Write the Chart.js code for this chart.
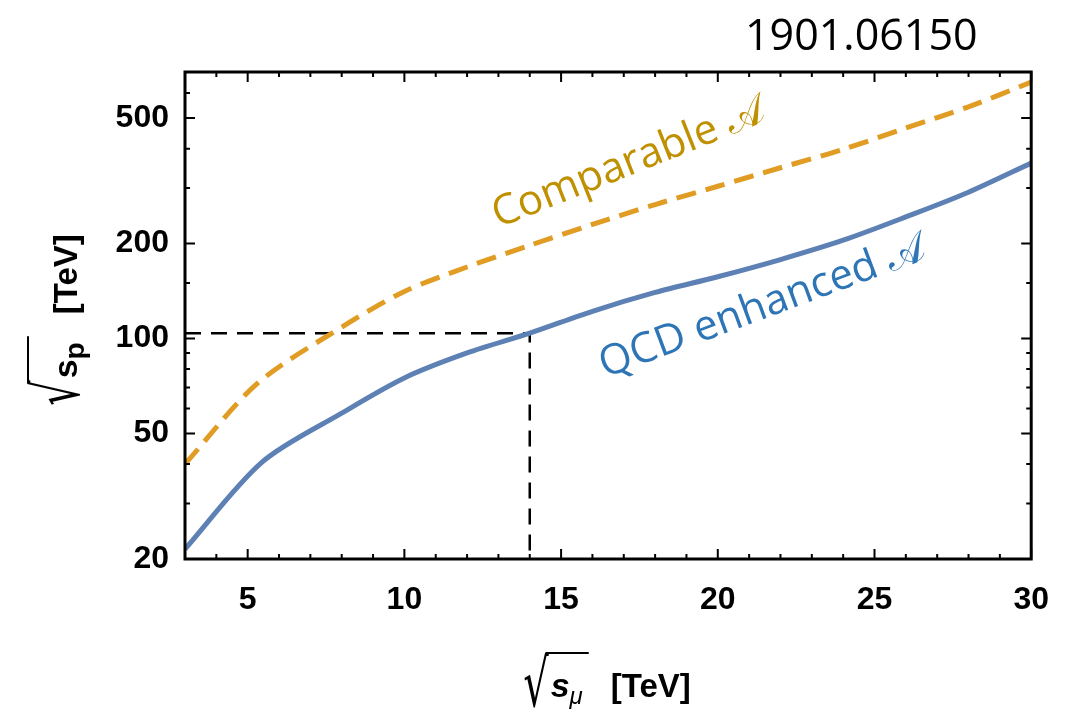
<!DOCTYPE html>
<html>
<head>
<meta charset="utf-8">
<script src="https://cdn.jsdelivr.net/npm/chart.js@4.4.0/dist/chart.umd.min.js"></script>
<style>
  html, body { margin: 0; padding: 0; background: #fff; }
  #wrap { position: relative; width: 1071px; height: 710px; }
  #paper { position: absolute; left: 745px; top: 4px; font: 43px "Open Sans", sans-serif; color: #000; }
</style>
</head>
<body>
<div id="wrap">
  <canvas id="plot" width="1071" height="710"></canvas>
  <div id="paper">1901.06150</div>
</div>
<script>
// sqrt(s_mu) in TeV
const qcdX = [3, 5.45, 8, 10, 12, 14, 16, 18, 20, 22, 24, 26, 28, 30];
const qcdY = [21.5, 40.5, 58, 75, 90, 104, 122, 140, 157, 178, 205, 243, 291, 360];

const compX = [3, 5.3, 8, 10, 12, 14, 16, 18, 20, 22, 24, 26, 28, 30];
const compY = [40, 71.9, 108.7, 141, 168.6, 197.5, 230, 266, 304, 348, 398, 465, 543, 650];

// 14 TeV muon collider -> ~100 TeV pp
const guideX = [3, 14, 14];
const guideY = [104, 104, 20];

const xTicks = [5, 10, 15, 20, 25, 30];
const xMinor = [4, 6, 7, 8, 9, 11, 12, 13, 14, 16, 17, 18, 19, 21, 22, 23, 24, 26, 27, 28, 29];
const yTicks = [20, 50, 100, 200, 500];
const yMinor = [30, 40, 60, 70, 80, 90, 150, 300, 400, 600];

const notes = [
  { text: 'Comparable \u{1D49C}', x: 13.0, y: 224, angle: -21.8, color: '#BF9000' },
  { text: 'QCD enhanced \u{1D49C}', x: 16.4, y: 75, angle: -20.4, color: '#2E75B6' }
];

const pts = (xs, ys) => xs.map((x, i) => ({ x: x, y: ys[i] }));

// frame with inward ticks on all four sides
const frameTicks = {
  id: 'frameTicks',
  afterDraw(chart) {
    const { ctx, chartArea: a, scales: { x, y } } = chart;
    ctx.save();
    ctx.strokeStyle = '#000';
    ctx.lineWidth = 2;
    const vTick = (v, len) => {
      const px = x.getPixelForValue(v);
      ctx.beginPath();
      ctx.moveTo(px, a.bottom); ctx.lineTo(px, a.bottom - len);
      ctx.moveTo(px, a.top); ctx.lineTo(px, a.top + len);
      ctx.stroke();
    };
    const hTick = (v, len) => {
      const py = y.getPixelForValue(v);
      ctx.beginPath();
      ctx.moveTo(a.left, py); ctx.lineTo(a.left + len, py);
      ctx.moveTo(a.right, py); ctx.lineTo(a.right - len, py);
      ctx.stroke();
    };
    xTicks.forEach(v => vTick(v, 10));
    xMinor.forEach(v => vTick(v, 5));
    yTicks.forEach(v => hTick(v, 10));
    yMinor.forEach(v => hTick(v, 5));
    ctx.lineWidth = 3;
    ctx.strokeRect(a.left, a.top, a.right - a.left, a.bottom - a.top);
    ctx.restore();
  }
};

// rotated curve labels
const curveNotes = {
  id: 'curveNotes',
  afterDraw(chart) {
    const { ctx, scales: { x, y } } = chart;
    notes.forEach(n => {
      ctx.save();
      ctx.translate(x.getPixelForValue(n.x), y.getPixelForValue(n.y));
      ctx.rotate(n.angle * Math.PI / 180);
      ctx.font = '42px "Open Sans", sans-serif';
      ctx.fillStyle = n.color;
      ctx.textAlign = 'left';
      ctx.textBaseline = 'alphabetic';
      ctx.fillText(n.text, 0, 0);
      ctx.restore();
    });
  }
};

// sqrt(s_sub) [TeV] axis titles; (cx, cy) is the center of the baseline
function drawRootTitle(ctx, cx, cy, rot, sym, sub, symFont, subFont, rootTop, rootBottom) {
  ctx.save();
  ctx.translate(cx, cy);
  ctx.rotate(rot);
  ctx.fillStyle = '#000';
  ctx.strokeStyle = '#000';
  ctx.textBaseline = 'alphabetic';
  const rootFont = '40px "DejaVu Sans"';
  const unitFont = 'bold 33px "Liberation Sans"';
  ctx.font = rootFont;
  const m = ctx.measureText('\u221A');
  const wR = m.width;
  ctx.font = symFont; const wS = ctx.measureText(sym).width;
  ctx.font = subFont; const wB = ctx.measureText(sub).width;
  ctx.font = unitFont; const wU = ctx.measureText('[TeV]').width;
  const gap = 22;
  const total = wR + 2 + wS + wB + 6 + gap + wU;
  let px = -total / 2;
  // stretch the radical vertically so it spans the overline down below the baseline
  const k = (rootBottom - rootTop) / (m.actualBoundingBoxAscent + m.actualBoundingBoxDescent);
  ctx.save();
  ctx.translate(px, rootTop);
  ctx.scale(1, k);
  ctx.font = rootFont;
  ctx.fillText('\u221A', 0, m.actualBoundingBoxAscent);
  ctx.restore();
  px += wR + 2;
  ctx.font = symFont; ctx.fillText(sym, px, 0); px += wS;
  ctx.font = subFont; ctx.fillText(sub, px, 7); px += wB + 6;
  ctx.lineWidth = 2;
  ctx.beginPath();
  ctx.moveTo(-total / 2 + wR - 3, rootTop + 1);
  ctx.lineTo(px, rootTop + 1);
  ctx.stroke();
  px += gap;
  ctx.font = unitFont; ctx.fillText('[TeV]', px, 0);
  ctx.restore();
}

const axisTitles = {
  id: 'axisTitles',
  afterDraw(chart) {
    const ctx = chart.ctx;
    drawRootTitle(ctx, 607, 697, 0, 's', '\u03BC',
      'bold italic 34px "Liberation Sans"', 'italic 24px "Liberation Sans"', -45, 11);
    drawRootTitle(ctx, 77, 320, -Math.PI / 2, 's', 'p',
      'bold 34px "Liberation Sans"', 'bold 28px "Liberation Sans"', -50, 4);
  }
};

const tickFont = { family: 'Liberation Sans', weight: 'bold', size: 32 };

new Chart(document.getElementById('plot').getContext('2d'), {
  type: 'line',
  data: {
    datasets: [
      {
        label: 'QCD enhanced',
        data: pts(qcdX, qcdY),
        borderColor: '#5E81B5',
        borderWidth: 5,
        pointRadius: 0,
        tension: 0.3
      },
      {
        label: 'Comparable',
        data: pts(compX, compY),
        borderColor: '#E19C24',
        borderWidth: 5,
        borderDash: [20, 10],
        pointRadius: 0,
        tension: 0.3
      },
      {
        label: 'guide',
        data: pts(guideX, guideY),
        borderColor: '#000',
        borderWidth: 2.5,
        borderDash: [16, 10],
        pointRadius: 0,
        tension: 0
      }
    ]
  },
  options: {
    responsive: false,
    animation: false,
    layout: { padding: { top: 72, right: 39, left: 0, bottom: 0 } },
    plugins: { legend: { display: false }, tooltip: { enabled: false } },
    scales: {
      x: {
        type: 'linear',
        min: 3,
        max: 30,
        afterBuildTicks: s => { s.ticks = xTicks.map(v => ({ value: v })); },
        afterFit: s => { s.height = 151; },
        grid: { display: false, drawTicks: false },
        border: { display: false },
        ticks: { font: tickFont, color: '#000', padding: 22, maxRotation: 0 }
      },
      y: {
        type: 'logarithmic',
        min: 20,
        max: 700,
        afterBuildTicks: s => { s.ticks = yTicks.map(v => ({ value: v })); },
        afterFit: s => { s.width = 185; },
        grid: { display: false, drawTicks: false },
        border: { display: false },
        ticks: { font: tickFont, color: '#000', padding: 16, callback: v => String(v) }
      }
    }
  },
  plugins: [frameTicks, curveNotes, axisTitles]
});
</script>
</body>
</html>
